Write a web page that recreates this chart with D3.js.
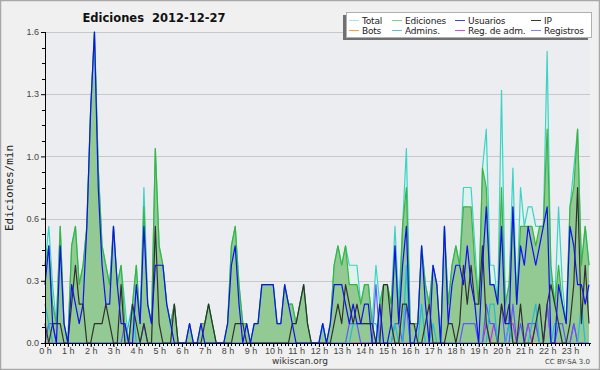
<!DOCTYPE html>
<html>
<head>
<meta charset="utf-8">
<title>Ediciones 2012-12-27</title>
<script src="https://d3js.org/d3.v7.min.js"></script>
<style>
    html, body { margin: 0; padding: 0; background: #ffffff; }
    svg { display: block; font-family: 'DejaVu Sans', sans-serif; }
    .tick text { font-size: 9px; fill: #444; }
</style>
</head>
<body>
<svg id="chart" width="600" height="370"></svg>
<script>

//DATA  (edits per minute, one value every 10 minutes)
let total = [
    .4,.6,.3,.1,.6,.1,  0,.5,.6,.3,.4,.6,  1.2,1.6,.9,.5,.4,.3,  .6,.3,.4,.2,0,.2,
    .4,.1,.8,.2,.1,1.0, .5,.4,.2,.1,.2,0,  0,0,.1,0,0,.1,       .1,.2,.1,0,0,0,
    .1,.5,.6,.3,.1,.1,  0,.1,.1,.3,.3,.3,  .3,.1,.1,.3,.2,.2,    .1,.2,.3,.1,0,0,
    0,.1,0,.1,.4,.5,    .4,.5,.4,.4,.4,.2, .3,.3,.1,.4,.2,.3,    .3,.2,.6,.2,.6,1.0,
    .1,.1,.1,.5,.3,.2,  .4,.3,0,.6,.2,.4,  .5,.4,.8,.8,.8,.5,    .2,.9,1.1,.4,.4,.2,
    1.3,.2,.3,.9,.2,.8, .6,.7,.7,.6,.6,.6, 1.5,.3,.2,.7,.3,.1,   .7,.9,1.1,.4,.6,.4
]
let edits = [
    .4,.5,.2,.1,.6,.1,  0,.5,.6,.3,.4,.6,  1.2,1.6,.9,.5,.4,.3,  .6,.3,.4,.1,0,.2,
    .4,.1,.7,.2,.1,1.0, .5,.4,.2,.1,.2,0,  0,0,.1,0,0,.1,       .1,.2,.1,0,0,0,
    .1,.5,.6,.3,.1,.1,  0,.1,.1,.3,.3,.3,  .3,.1,.1,.3,.2,.2,    .1,.2,.3,.1,0,0,
    0,.1,0,.1,.4,.5,    .4,.5,.3,.3,.3,.2, .3,.3,.1,0,.2,.3,     .3,.2,.5,.1,.6,.8,
    .1,.1,.1,.5,.3,.2,  .4,.3,0,.6,.2,.4,  .5,.4,.7,.7,.7,.4,    .2,.9,.8,.3,.3,.2,
    .8,.2,.3,.7,.2,.6,  .6,.6,.6,.5,.6,.6, 1.1,.4,.2,.4,.2,.1,   .7,.8,1.1,.4,.6,.4
]
let users = [
    .3,.5,.1,0,.5,.1,   0,.3,.2,.1,.2,.6,  1.2,1.6,.8,.4,.2,.2,  .6,.3,.1,.1,0,0,
    .3,.1,.6,.2,.1,.4,  .4,.4,.2,.1,0,0,   0,0,.1,0,0,.1,       0,0,0,0,0,0,
    .1,.4,.5,.2,0,.1,   0,.1,.1,.3,.3,.3,  .3,.1,.1,.3,.2,.1,    0,0,0,0,0,0,
    0,.1,0,.1,.3,.3,    .3,.2,.1,.2,.1,.1, .2,.2,0,0,.2,0,       0,.1,.5,.1,.4,.6,
    0,0,.1,.5,.2,0,     .4,.3,0,.6,.1,.3,  .4,.4,.3,.5,.3,.2,    0,.4,.7,.3,.3,.2,
    .6,.1,.1,.7,.2,.5,  .4,.6,.5,.4,.5,.6, .7,0,0,.3,.2,.1,      .6,.5,.3,.3,.2,.3
]
let ip = [
    .1,0,.1,.1,.1,0,    0,.2,.4,.2,.2,0,   0,.1,.1,.1,.2,.1,     0,0,.3,0,0,.2,
    .1,0,.1,0,0,.6,     .1,0,0,0,.2,0,     0,0,0,0,0,0,          .1,.2,.1,0,0,0,
    0,0,.1,.1,.1,0,     0,0,0,0,0,0,       0,0,0,0,0,.1,         .1,.2,.3,.1,0,0,
    0,0,0,0,.1,.2,      .1,.3,.2,.1,.2,.1, .1,.1,.1,0,0,.3,      .3,.1,0,0,.2,.2,
    .1,.1,0,0,.1,.2,    0,0,0,0,.1,.1,     0,.1,.4,.2,.4,.2,     .2,.5,.1,0,0,0,
    .2,.1,.2,0,0,.2,    0,0,0,.1,.2,0,     .2,.3,.2,.1,0,0,      .1,.3,.8,.1,.4,.1
]
let bots = [
    0,0,0,0,0,0, 0,0,0,0,0,0, 0,0,0,0,0,0, 0,0,0,0,0,0,
    0,0,0,0,0,0, 0,0,0,0,0,0, 0,0,0,0,0,0, 0,0,0,0,0,0,
    0,0,0,0,0,0, 0,0,0,0,0,0, 0,0,0,0,0,0, 0,0,0,0,0,0,
    0,0,0,0,0,0, 0,0,0,0,0,0, 0,0,0,0,0,0, 0,0,0,0,0,0,
    0,0,0,0,0,0, 0,0,0,0,0,0, 0,0,0,0,0,0, 0,0,0,0,0,0,
    0,0,0,0,0,0, 0,0,0,0,0,0, 0,0,0,0,0,0, 0,0,0,0,0,0
]
let admins = [
    .2,.1,0,0,0,0,      0,0,0,0,0,0,       0,0,0,0,0,0,          0,0,0,0,.1,.2,
    0,0,0,0,0,0,        0,0,0,0,0,0,       0,0,0,0,0,0,          0,0,0,0,0,0,
    0,0,0,0,0,0,        0,0,0,0,0,0,       0,0,0,0,0,0,          0,0,0,0,0,0,
    0,.1,0,0,0,0,       0,0,0,.1,.1,.1,    .1,.1,.1,.1,0,0,      0,0,.1,0,0,.4,
    0,0,0,.2,0,0,       .1,0,0,0,0,0,      0,0,0,0,0,0,          0,0,0,.2,.2,0,
    0,0,.1,0,0,0,       0,0,.1,.2,0,0,     0,0,.1,.1,0,0,        0,0,0,.2,0,0
]
let adminLogs = [
    0,0,0,0,0,0, 0,0,0,0,0,0, 0,0,0,0,0,0, 0,0,0,0,0,0,
    0,0,0,0,0,0, 0,0,0,0,0,0, 0,0,0,0,0,0, 0,0,0,0,0,0,
    0,0,0,0,0,0, 0,0,0,0,0,0, 0,0,0,0,0,0, 0,0,0,0,0,0,
    0,0,0,0,0,0, 0,0,0,0,0,0, 0,0,0,0,0,0, 0,0,0,0,0,0,
    0,0,0,0,0,0, 0,0,0,0,0,0, 0,0,0,0,0,0, 0,0,.1,0,.1,0,
    0,0,.1,.1,0,0, 0,.1,0,.1,0,0, .2,0,0,0,0,0, 0,.1,0,0,0,0
]
let logs = [
    0,.1,.1,0,0,0,  0,0,0,0,0,0,  0,0,0,0,0,0,  0,0,0,.1,0,0,
    0,0,.1,0,0,0,   0,0,0,0,0,0,  0,0,0,0,0,0,  0,0,0,0,0,0,
    0,0,0,0,0,0,    0,0,0,0,0,0,  0,0,0,0,0,0,  0,0,0,0,0,0,
    0,0,0,0,0,0,    0,0,.1,.1,.1,0, 0,0,0,.3,0,0, 0,0,.1,.1,0,.2,
    0,0,0,0,0,0,    0,0,0,0,0,0,  0,0,.1,.1,.1,.1, 0,0,.2,.1,.1,0,
    .2,0,0,.2,0,.1, 0,.1,.1,.1,0,0, .2,0,0,.1,.1,0, 0,.1,0,0,0,0
]

let hourLabels = ['0 h','1 h','2 h','3 h','4 h','5 h','6 h','7 h','8 h','9 h','10 h','11 h',
                  '12 h','13 h','14 h','15 h','16 h','17 h','18 h','19 h','20 h','21 h','22 h','23 h']
let yTicks = [0, 0.32, 0.64, 0.96, 1.28, 1.6]
let yMinor = [0.08, 0.16, 0.24, 0.40, 0.48, 0.56, 0.72, 0.80, 0.88, 1.04, 1.12, 1.20, 1.36, 1.44, 1.52]

let legendNames = ['Total','Ediciones','Usuarios','IP','Bots','Admins.','Reg. de adm.','Registros']
let legendColors = ['#a8e6dc','#88cc88','#4040e0','#333333','#ffa040','#50c8dc','#cc50e0','#8080f0']

//DECLARE
let pLeft = 45, pRight = 589, pTop = 32, pBottom = 343
let svg = d3.select('#chart')

let x = d3.scaleLinear().domain([0, total.length-1]).range([pLeft, pRight])
let y = d3.scaleLinear().domain([0, 1.6]).range([pBottom, pTop])

//BACKGROUND
svg.append('rect').attr('x',0.5).attr('y',0.5).attr('width',599).attr('height',369)
    .attr('fill','#f0f0f0').attr('stroke','#a8a8a8').attr('stroke-width',1.5)
svg.append('rect').attr('x',pLeft).attr('y',pTop).attr('width',pRight-pLeft+1).attr('height',pBottom-pTop)
    .attr('fill','#ecedf0')

// grid
svg.append('g').selectAll('line').data(yTicks.slice(1)).join('line')
    .attr('x1',pLeft).attr('x2',pRight+1)
    .attr('y1',d=>Math.round(y(d))+0.5).attr('y2',d=>Math.round(y(d))+0.5)
    .attr('stroke','#c8c8c8')

//AREAS
let area = d3.area().x((d,i)=>x(i)).y0(y(0)).y1(d=>y(d))
let line = d3.line().x((d,i)=>x(i)).y(d=>y(d))

svg.append('path').datum(total).attr('d',area).attr('fill','#dff2ee')
svg.append('path').datum(edits).attr('d',area).attr('fill','#93c993')

//LINES
let series = [
    [total,'#3cd2c6'],
    [edits,'#3cb43c'],
    [bots,'#ffa040'],
    [adminLogs,'#c030e0'],
    [logs,'#5a5aff'],
    [admins,'#20bcd8'],
    [ip,'#303030'],
    [users,'#1010f0']
]
series.forEach(s=>{
    svg.append('path').datum(s[0]).attr('d',line)
        .attr('fill','none').attr('stroke',s[1]).attr('stroke-width',1.2)
        .attr('stroke-linejoin','round')
})

//AXES
let yAxis = d3.axisLeft(y).tickValues(yTicks).tickFormat(d3.format('.1f')).tickSize(4).tickPadding(2)
let gy = svg.append('g').attr('transform','translate('+pLeft+',0)').call(yAxis)
gy.select('.domain').attr('stroke','#000').attr('d','M0.5,'+pTop+'V'+(pBottom+0.5))
gy.selectAll('.tick line').attr('stroke','#000')
gy.selectAll('.tick text').attr('dy','0.3em')
gy.append('g').selectAll('line').data(yMinor).join('line')
    .attr('x1',-3).attr('x2',0)
    .attr('y1',d=>Math.round(y(d))+0.5).attr('y2',d=>Math.round(y(d))+0.5)
    .attr('stroke','#000')

let xAxis = d3.axisBottom(x).tickValues(hourLabels.map((d,i)=>i*6))
    .tickFormat((d,i)=>hourLabels[i]).tickSize(4).tickPadding(1)
let gx = svg.append('g').attr('transform','translate(0,'+pBottom+')').call(xAxis)
gx.select('.domain').attr('stroke','#000').attr('d','M'+pLeft+',0.5H'+(pRight+2))
gx.selectAll('.tick line').attr('stroke','#000')
gx.append('g').selectAll('line').data(total).join('line')
    .attr('x1',(d,i)=>Math.round(x(i))+0.5).attr('x2',(d,i)=>Math.round(x(i))+0.5)
    .attr('y1',0).attr('y2',3).attr('stroke','#000')

//TEXTS
svg.append('text').text('Ediciones  2012-12-27')
    .attr('x',154).attr('y',22).attr('text-anchor','middle')
    .attr('font-size',11.5).attr('font-weight','bold').attr('fill','#111')
    .style('white-space','pre')

svg.append('text').text('Ediciones/min')
    .attr('transform','translate(13,188) rotate(-90)').attr('text-anchor','middle')
    .attr('font-size',11).attr('font-family','DejaVu Sans Mono, monospace').attr('fill','#222')

svg.append('text').text('wikiscan.org')
    .attr('x',300).attr('y',364).attr('text-anchor','middle')
    .attr('font-size',9).attr('fill','#333')

svg.append('text').text('CC BY-SA 3.0')
    .attr('x',590).attr('y',364).attr('text-anchor','end')
    .attr('font-size',7).attr('fill','#444')

//LEGEND
let lx = 346, ly = 12, lw = 245, lh = 25
svg.append('rect').attr('x',lx-3).attr('y',ly+3).attr('width',lw).attr('height',lh).attr('fill','#707070')
svg.append('rect').attr('x',lx+0.5).attr('y',ly+0.5).attr('width',lw).attr('height',lh)
    .attr('fill','#fff').attr('stroke','#b0b0b0')

let colX = [349, 392, 455, 531]
let leg = svg.append('g').selectAll('g').data(legendNames).join('g')
    .attr('transform',(d,i)=>'translate('+colX[i%4]+','+(ly+8+Math.floor(i/4)*10)+')')
leg.append('line').attr('x1',0).attr('x2',10).attr('y1',0.5).attr('y2',0.5)
    .attr('stroke',(d,i)=>legendColors[i])
leg.append('text').text(d=>d).attr('x',13).attr('y',4)
    .attr('font-size',9).attr('letter-spacing',-0.2).attr('fill','#222')

</script>
</body>
</html>
